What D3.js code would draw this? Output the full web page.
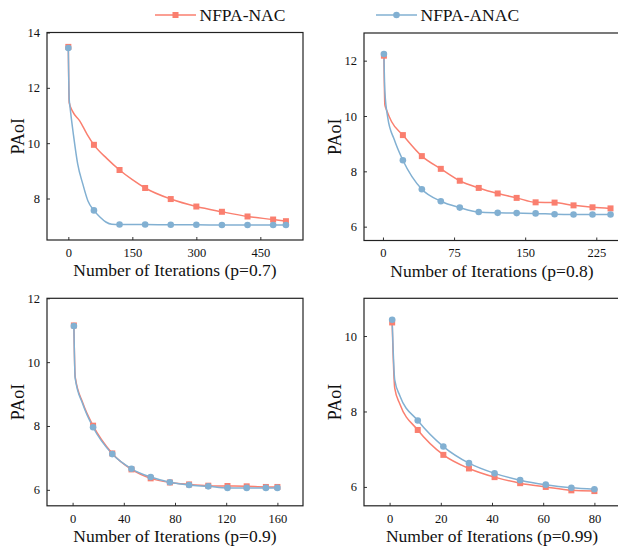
<!DOCTYPE html>
<html>
<head>
<meta charset="utf-8">
<script src="https://cdn.jsdelivr.net/npm/d3@7"></script>
<style>
	body { margin: 0; background: #fff; }
	svg text { font-family: "Liberation Serif", "Times New Roman", serif; fill: #111; }
	.tick line { stroke: #333; }
	.tick text { font-size: 12.5px; }
</style>
</head>
<body>
<svg id="chart" width="618" height="550"></svg>
<script>
// p = 0.7
var p07NacIter = [0, 2, 10, 27, 44, 60, 90, 120, 150, 180, 240, 300, 360, 420, 480, 510];
var p07NacVal = [13.48, 11.47, 11.15, 10.8, 10.32, 9.94, 9.45, 9.03, 8.68, 8.38, 7.98, 7.71, 7.52, 7.35, 7.24, 7.18];
var p07AnacIter = [0, 2, 4, 12, 22, 34, 46, 60, 74, 88, 102, 120, 180, 240, 300, 360, 420, 480, 510];
var p07AnacVal = [13.44, 11.6, 11.3, 10.3, 9.24, 8.52, 7.91, 7.57, 7.33, 7.15, 7.07, 7.06, 7.06, 7.05, 7.05, 7.04, 7.04, 7.04, 7.04];
var p07Marks = [0, 60, 120, 180, 240, 300, 360, 420, 480, 510];

// p = 0.8
var p08NacIter = [1, 2, 4, 9, 21, 41, 61, 81, 101, 121, 141, 161, 181, 201, 221, 240];
var p08NacVal = [12.18, 10.4, 10.2, 9.8, 9.31, 8.55, 8.09, 7.66, 7.40, 7.20, 7.04, 6.88, 6.87, 6.77, 6.70, 6.66];
var p08AnacIter = [1, 2, 5, 12, 21, 41, 61, 81, 101, 121, 141, 161, 181, 201, 221, 240];
var p08AnacVal = [12.24, 10.9, 9.95, 9.14, 8.40, 7.35, 6.92, 6.69, 6.53, 6.50, 6.49, 6.48, 6.45, 6.44, 6.44, 6.44];
var p08Marks = [1, 21, 41, 61, 81, 101, 121, 141, 161, 181, 201, 221, 240];

// p = 0.9
var p09Iter = [1, 2, 8, 16, 31, 46, 61, 76, 91, 106, 121, 136, 151, 160];
var p09NacVal = [11.15, 9.55, 8.72, 8.01, 7.14, 6.64, 6.36, 6.23, 6.17, 6.13, 6.12, 6.11, 6.09, 6.09];
var p09AnacVal = [11.13, 9.5, 8.68, 7.96, 7.12, 6.66, 6.40, 6.24, 6.15, 6.11, 6.06, 6.06, 6.06, 6.06];
var p09Marks = [1, 16, 31, 46, 61, 76, 91, 106, 121, 136, 151, 160];

// p = 0.99
var p099Iter = [1, 2, 4, 11, 21, 31, 41, 51, 61, 71, 80];
var p099NacVal = [10.36, 8.62, 8.2, 7.51, 6.85, 6.49, 6.26, 6.10, 6.00, 5.91, 5.89];
var p099AnacVal = [10.43, 8.84, 8.42, 7.76, 7.07, 6.63, 6.36, 6.18, 6.06, 5.98, 5.94];
var p099Marks = [1, 11, 21, 31, 41, 51, 61, 71, 80];

var seriesNames = ["NFPA-NAC", "NFPA-ANAC"];
var seriesColors = ["#FA7F6F", "#82B0D2"];

var panelLabels = ["Number of Iterations (p=0.7)", "Number of Iterations (p=0.8)",
	"Number of Iterations (p=0.9)", "Number of Iterations (p=0.99)"];
var panelXTicks = [[0, 150, 300, 450], [0, 75, 150, 225], [0, 40, 80, 120, 160], [0, 20, 40, 60, 80]];
var panelYTicks = [[8, 10, 12, 14], [6, 8, 10, 12], [6, 8, 10, 12], [6, 8, 10]];
var panelXDomains = [[-50, 550], [-20, 250], [-20, 180], [-10, 90]];
var panelYDomains = [[6.5, 14], [5.5, 13], [5.5, 12], [5.5, 11]];

var FONT = "'Liberation Serif', 'Times New Roman', serif";

function zip(iters, vals) {
	return iters.map(function (d, i) { return {x : d, y : vals[i]}; });
}

var panels = [
	{ nac : zip(p07NacIter, p07NacVal), anac : zip(p07AnacIter, p07AnacVal), marks : p07Marks },
	{ nac : zip(p08NacIter, p08NacVal), anac : zip(p08AnacIter, p08AnacVal), marks : p08Marks },
	{ nac : zip(p09Iter, p09NacVal), anac : zip(p09Iter, p09AnacVal), marks : p09Marks },
	{ nac : zip(p099Iter, p099NacVal), anac : zip(p099Iter, p099AnacVal), marks : p099Marks }
];

var chart = {
	// plot boxes: left, top
	boxes : [[47, 32.5], [364, 33], [47, 298.3], [364, 298.3]],
	boxW : 256,
	boxH : 207.5,

	drawPanel : function (idx)
	{
		var svg = d3.select("svg#chart");
		var p = panels[idx];
		var box = this.boxes[idx];
		var w = this.boxW, h = this.boxH;

		var g = svg.append("g")
		.attr("transform", "translate(" + box[0] + "," + box[1] + ")");

		var x = d3.scaleLinear().domain(panelXDomains[idx]).range([0, w]);
		var y = d3.scaleLinear().domain(panelYDomains[idx]).range([h, 0]);

		// ticks point inwards
		var xAxis = g.append("g")
		.attr("transform", "translate(0," + h + ")")
		.call(d3.axisBottom(x).tickValues(panelXTicks[idx]).tickFormat(d3.format("d"))
			.tickSizeInner(-3).tickSizeOuter(0).tickPadding(8));
		xAxis.select(".domain").remove();
		xAxis.attr("font-family", FONT).attr("font-size", 12.5);

		var yAxis = g.append("g")
		.call(d3.axisLeft(y).tickValues(panelYTicks[idx]).tickFormat(d3.format("d"))
			.tickSizeInner(-3).tickSizeOuter(0).tickPadding(7));
		yAxis.select(".domain").remove();
		yAxis.attr("font-family", FONT).attr("font-size", 12.5);

		var clipId = "clip" + idx;
		g.append("clipPath").attr("id", clipId)
		.append("rect").attr("width", w).attr("height", h);

		var plot = g.append("g").attr("clip-path", "url(#" + clipId + ")");

		var line = d3.line()
		.x(function (d) { return x(d.x); })
		.y(function (d) { return y(d.y); })
		.curve(d3.curveMonotoneX);

		var sets = [p.nac, p.anac];
		sets.forEach(function (data, s) {
			plot.append("path")
			.datum(data)
			.attr("fill", "none")
			.attr("stroke", seriesColors[s])
			.attr("stroke-width", 1.5)
			.attr("d", line);
		});

		sets.forEach(function (data, s) {
			var pts = data.filter(function (d) { return p.marks.indexOf(d.x) >= 0; });
			if (s === 0) {
				plot.selectAll("rect.m" + s).data(pts).enter().append("rect")
				.attr("class", "m" + s)
				.attr("x", function (d) { return x(d.x) - 3; })
				.attr("y", function (d) { return y(d.y) - 3; })
				.attr("width", 6).attr("height", 6)
				.attr("fill", seriesColors[s]);
			} else {
				plot.selectAll("circle.m" + s).data(pts).enter().append("circle")
				.attr("class", "m" + s)
				.attr("cx", function (d) { return x(d.x); })
				.attr("cy", function (d) { return y(d.y); })
				.attr("r", 3.3)
				.attr("fill", seriesColors[s]);
			}
		});

		// frame
		g.append("rect")
		.attr("width", w).attr("height", h)
		.attr("fill", "none")
		.attr("stroke", "#222")
		.attr("stroke-width", 1.2);

		g.append("text")
		.attr("x", w / 2)
		.attr("y", h + 36)
		.attr("text-anchor", "middle")
		.attr("font-family", FONT)
		.style("font-size", "17.5px")
		.text(panelLabels[idx]);

		g.append("text")
		.attr("transform", "translate(-23," + (h / 2) + ") rotate(-90)")
		.attr("text-anchor", "middle")
		.attr("font-family", FONT)
		.style("font-size", "18px")
		.text("PAoI");
	},

	drawLegend : function ()
	{
		var svg = d3.select("svg#chart");
		var starts = [155, 376];
		seriesNames.forEach(function (name, s) {
			var lg = svg.append("g").attr("transform", "translate(" + starts[s] + ",15)");
			lg.append("line")
			.attr("x1", 0).attr("x2", 41)
			.attr("stroke", seriesColors[s])
			.attr("stroke-width", 1.5);
			if (s === 0) {
				lg.append("rect").attr("x", 17.5).attr("y", -3).attr("width", 6).attr("height", 6)
				.attr("fill", seriesColors[s]);
			} else {
				lg.append("circle").attr("cx", 20.5).attr("r", 3.3).attr("fill", seriesColors[s]);
			}
			lg.append("text")
			.attr("x", 44.5)
			.attr("y", 5.8)
			.attr("font-family", FONT)
			.style("font-size", "17.5px")
			.text(name);
		});
	},

	init : function ()
	{
		for (var i = 0; i < panels.length; i++) {
			this.drawPanel(i);
		}
		this.drawLegend();
	}
};

chart.init();
</script>
</body>
</html>
